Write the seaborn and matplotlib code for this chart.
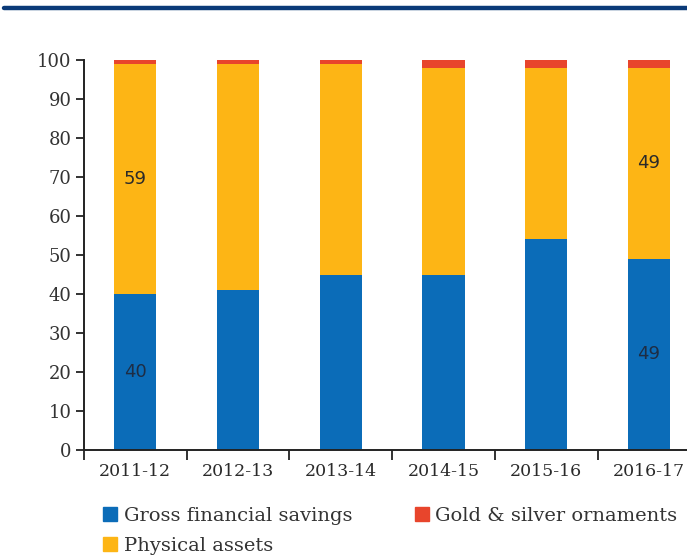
import matplotlib
matplotlib.use("Agg")
import matplotlib.pyplot as plt
import seaborn as sns
import pandas as pd
from matplotlib.patches import Patch
from matplotlib.lines import Line2D

# Composition of household savings (% share)
years = ["2011-12", "2012-13", "2013-14", "2014-15", "2015-16", "2016-17"]
financial = [40, 41, 45, 45, 54, 49]
physical = [59, 58, 54, 53, 44, 49]
gold = [1, 1, 1, 2, 2, 2]
labelled = [0, 5]

BLUE = "#0b6cb8"
ORANGE = "#fdb515"
RED = "#e8452c"
NAVY = "#0b3a78"

sns.set_theme(style="white")
plt.rcParams["font.family"] = ["DejaVu Serif"]

df = pd.DataFrame({"year": years, "fin": financial, "phys": physical, "gold": gold})
df["lvl2"] = df["fin"] + df["phys"]
df["lvl3"] = df["lvl2"] + df["gold"]

fig = plt.figure(figsize=(6.87, 5.60), dpi=100)
ax = fig.add_axes([0.1223, 0.1964, 0.897, 0.6964])

w = 0.41
sns.barplot(data=df, x="year", y="lvl3", color=RED, width=w, saturation=1, ax=ax, linewidth=0)
sns.barplot(data=df, x="year", y="lvl2", color=ORANGE, width=w, saturation=1, ax=ax, linewidth=0)
sns.barplot(data=df, x="year", y="fin", color=BLUE, width=w, saturation=1, ax=ax, linewidth=0)

for i in labelled:
    ax.text(i, financial[i] / 2, f"{financial[i]}", ha="center", va="center",
            fontsize=13, color="#1e2d44", family="DejaVu Sans")
    ax.text(i, financial[i] + physical[i] / 2, f"{physical[i]}", ha="center", va="center",
            fontsize=13, color="#2a2a2a", family="DejaVu Sans")

ax.set_xlim(-0.5, 5.5)
ax.set_ylim(0, 100)
ax.set_yticks(range(0, 101, 10))
ax.set_xlabel("")
ax.set_ylabel("")

# Tick marks on category boundaries, labels on category centres
ax.set_xticks([i - 0.5 for i in range(len(years) + 1)], minor=False)
ax.set_xticklabels([""] * (len(years) + 1))
ax.set_xticks(range(len(years)), minor=True)
ax.set_xticklabels(years, minor=True)
ax.tick_params(axis="x", which="major", direction="out", length=7, width=1.3, color="#222222", bottom=True)
ax.tick_params(axis="x", which="minor", length=0, pad=9, labelsize=12.5, labelcolor="#2a2a2a")
ax.tick_params(axis="y", direction="out", length=6, width=1.3, color="#222222", left=True,
               labelsize=13, labelcolor="#333333", pad=3)

for s in ["top", "right"]:
    ax.spines[s].set_visible(False)
for s in ["left", "bottom"]:
    ax.spines[s].set_color("#222222")
    ax.spines[s].set_linewidth(1.4)

# Header rule
fig.add_artist(Line2D([0.006, 1.0], [0.985, 0.985], color=NAVY, linewidth=3.2,
                      transform=fig.transFigure))

handles = [Patch(color=BLUE, label="Gross financial savings"),
           Patch(color=ORANGE, label="Physical assets"),
           Patch(color=RED, label="Gold & silver ornaments")]
fig.legend(handles=handles, ncol=2, loc="upper left", bbox_to_anchor=(0.150, 0.095),
           frameon=False, fontsize=14, handlelength=0.72, handleheight=0.72,
           handletextpad=0.35, columnspacing=3.2, labelspacing=0.62, borderaxespad=0,
           borderpad=0, labelcolor="#333333")

fig.savefig("out.png", dpi=100, facecolor="white")
